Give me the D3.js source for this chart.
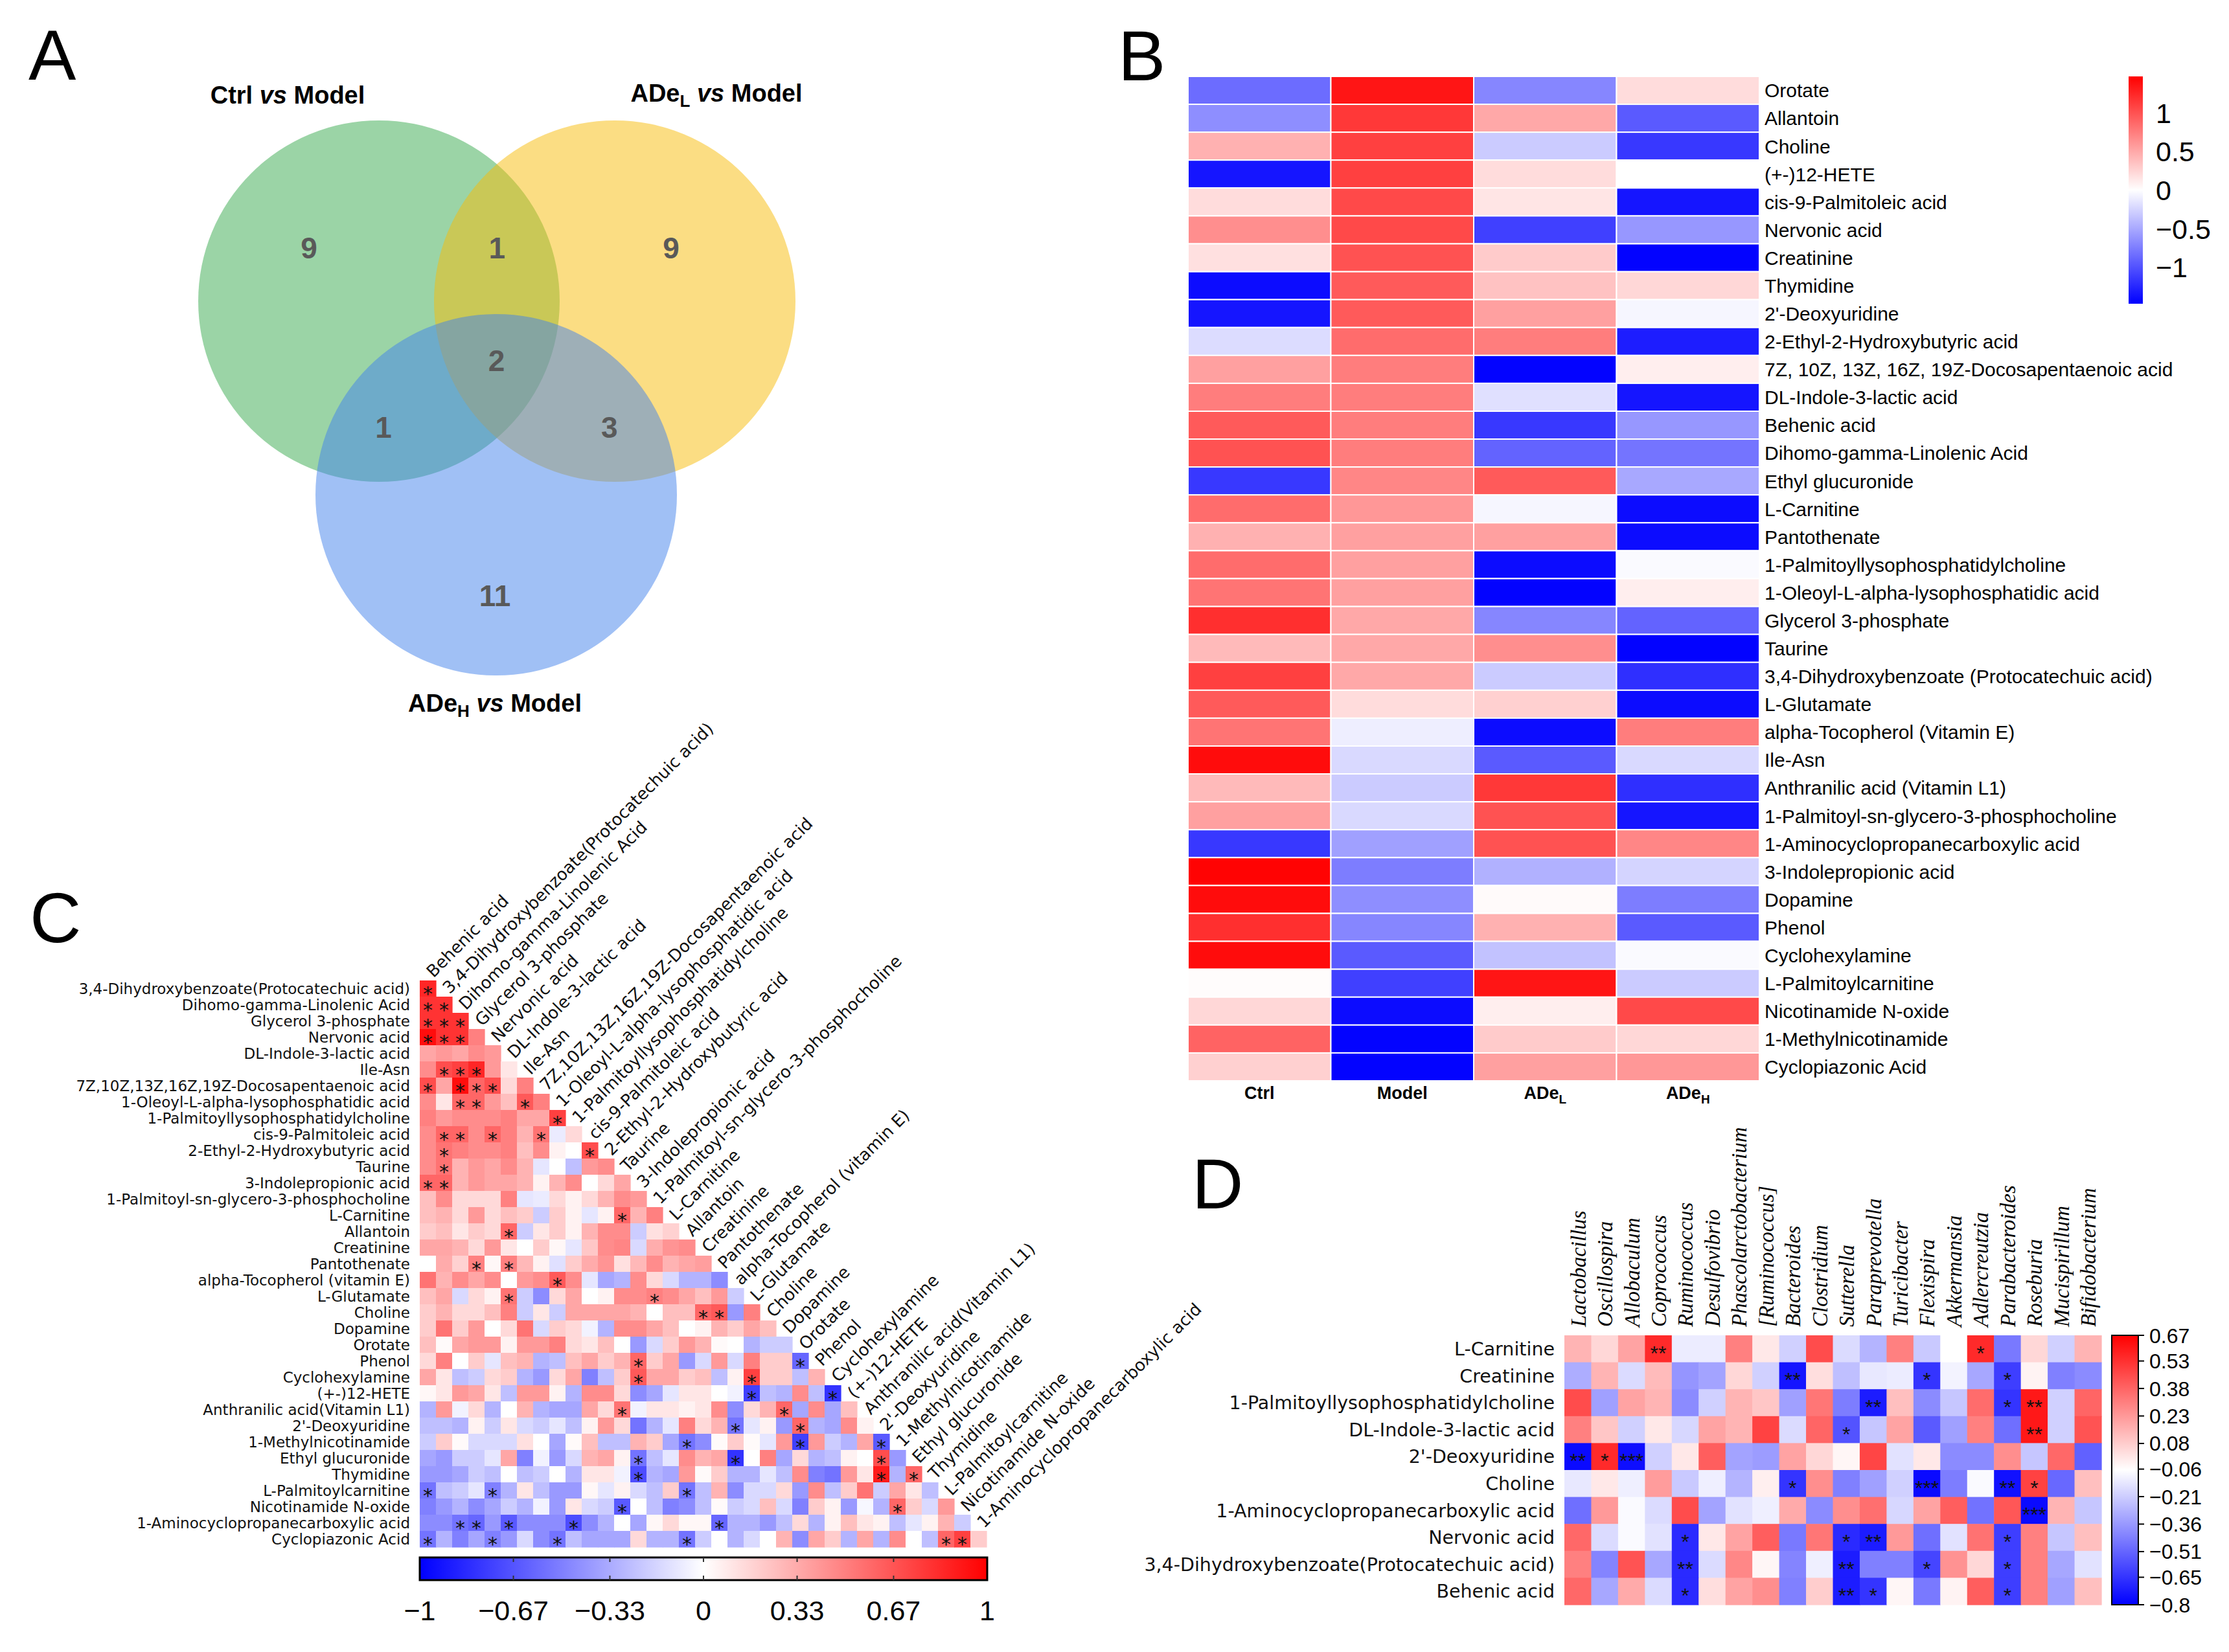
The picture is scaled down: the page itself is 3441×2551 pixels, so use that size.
<!DOCTYPE html>
<html><head><meta charset="utf-8">
<script src="https://cdn.jsdelivr.net/npm/d3@7"></script>
<style>body{margin:0;background:#fff}svg{display:block}</style>
</head><body>
<svg id="fig" width="3441" height="2551"></svg>
<script>
// ---------------- DATA ----------------
// Panel A (Venn)
const vennSetNames = [["Ctrl",""],["ADe","L"],["ADe","H"]];
const vennOnly = [9, 9, 11];            // Ctrl only, ADeL only, ADeH only
const vennPairs = [1, 1, 3];            // Ctrl&ADeL, Ctrl&ADeH, ADeL&ADeH
const vennAll = 2;

// Panel B (heatmap)
const bGroups = ["Ctrl","Model","ADeL","ADeH"];
const bMetabolites = ["Orotate","Allantoin","Choline","(+-)12-HETE","cis-9-Palmitoleic acid","Nervonic acid","Creatinine","Thymidine","2'-Deoxyuridine","2-Ethyl-2-Hydroxybutyric acid","7Z, 10Z, 13Z, 16Z, 19Z-Docosapentaenoic acid","DL-Indole-3-lactic acid","Behenic acid","Dihomo-gamma-Linolenic Acid","Ethyl glucuronide","L-Carnitine","Pantothenate","1-Palmitoyllysophosphatidylcholine","1-Oleoyl-L-alpha-lysophosphatidic acid","Glycerol 3-phosphate","Taurine","3,4-Dihydroxybenzoate (Protocatechuic acid)","L-Glutamate","alpha-Tocopherol (Vitamin E)","Ile-Asn","Anthranilic acid (Vitamin L1)","1-Palmitoyl-sn-glycero-3-phosphocholine","1-Aminocyclopropanecarboxylic acid","3-Indolepropionic acid","Dopamine","Phenol","Cyclohexylamine","L-Palmitoylcarnitine","Nicotinamide N-oxide","1-Methylnicotinamide","Cyclopiazonic Acid"];
const bCtrl  = [-0.85,-0.65,0.45,-1.35,0.2,0.65,0.18,-1.4,-1.35,-0.2,0.55,0.75,0.95,1.0,-1.15,0.85,0.45,0.85,0.8,1.2,0.4,1.1,0.95,0.8,1.4,0.4,0.55,-1.15,1.45,1.4,1.2,1.4,0.02,0.23,0.9,0.27];
const bModel = [1.35,1.15,1.1,1.1,1.05,1.05,1.0,0.95,0.95,0.85,0.75,0.75,0.75,0.75,0.7,0.6,0.55,0.55,0.55,0.5,0.5,0.5,0.2,-0.1,-0.22,-0.3,-0.22,-0.55,-0.75,-0.65,-0.7,-0.95,-1.1,-1.4,-1.45,-1.45];
const bADeL  = [-0.7,0.5,-0.3,0.2,0.15,-1.1,0.3,0.35,0.55,0.75,-1.45,-0.18,-1.15,-0.9,0.95,-0.05,0.55,-1.4,-1.45,-0.7,0.65,-0.3,0.27,-1.4,-0.95,1.15,1.0,1.0,-0.45,0.03,0.45,-0.35,1.35,0.1,0.3,0.55];
const bADeH  = [0.2,-0.95,-1.15,0.0,-1.35,-0.6,-1.45,0.23,-0.05,-1.3,0.1,-1.35,-0.6,-0.8,-0.5,-1.4,-1.4,-0.03,0.1,-0.9,-1.45,-1.2,-1.4,0.75,-0.22,-1.2,-1.35,0.7,-0.25,-0.75,-0.95,-0.03,-0.3,1.05,0.23,0.6];
const bTicks = [1, 0.5, 0, -0.5, -1];

// Panel C (correlation triangle)
const cVars = ["Behenic acid","3,4-Dihydroxybenzoate(Protocatechuic acid)","Dihomo-gamma-Linolenic Acid","Glycerol 3-phosphate","Nervonic acid","DL-Indole-3-lactic acid","Ile-Asn","7Z,10Z,13Z,16Z,19Z-Docosapentaenoic acid","1-Oleoyl-L-alpha-lysophosphatidic acid","1-Palmitoyllysophosphatidylcholine","cis-9-Palmitoleic acid","2-Ethyl-2-Hydroxybutyric acid","Taurine","3-Indolepropionic acid","1-Palmitoyl-sn-glycero-3-phosphocholine","L-Carnitine","Allantoin","Creatinine","Pantothenate","alpha-Tocopherol (vitamin E)","L-Glutamate","Choline","Dopamine","Orotate","Phenol","Cyclohexylamine","(+-)12-HETE","Anthranilic acid(Vitamin L1)","2'-Deoxyuridine","1-Methylnicotinamide","Ethyl glucuronide","Thymidine","L-Palmitoylcarnitine","Nicotinamide N-oxide","1-Aminocyclopropanecarboxylic acid","Cyclopiazonic Acid"];
const cCorr = [
[0.85],
[0.8,0.8],
[0.8,0.8,0.8],
[0.95,0.8,0.8,0.5],
[0.35,0.4,0.35,0.45,0.4],
[0.45,0.7,0.75,0.85,0.4,0.1],
[0.7,0.35,0.95,0.6,0.7,0.15,0.5],
[0.45,0.1,0.6,0.6,0.4,0.25,0.65,0.5],
[0.5,0.4,0.45,0.45,0.45,0.5,0.35,0.35,0.75],
[0.45,0.6,0.6,0.45,0.6,0.5,0.3,0.55,-0.08,0.15],
[0.45,0.55,0.5,0.45,0.45,0.5,0.25,0.45,0.05,0.0,0.7],
[0.45,0.55,0.3,0.4,0.35,0.45,0.3,-0.1,0.0,-0.25,0.4,0.45],
[0.6,0.6,0.3,0.4,0.35,0.35,0.3,0.05,0.3,0.45,0.0,0.15,0.35],
[0.25,0.45,0.15,0.15,0.15,0.5,-0.1,-0.08,0.15,0.05,0.15,0.3,0.45,0.4],
[0.25,0.3,0.15,0.4,0.15,0.25,0.2,-0.2,0.2,0.05,-0.1,0.05,0.6,0.3,0.5],
[0.2,0.25,0.1,0.2,0.15,0.6,-0.2,0.1,0.2,0.05,0.3,0.45,0.45,-0.2,0.12,0.18],
[0.35,0.35,0.3,0.15,0.4,0.1,0.0,0.2,0.03,-0.1,0.22,0.45,0.48,-0.15,0.32,0.42,0.45],
[0.0,0.33,0.18,0.5,0.03,0.5,0.28,0.05,-0.12,0.2,0.33,0.42,0.12,0.28,0.45,0.3,0.35,0.38],
[0.55,0.3,0.45,0.35,0.45,0.0,0.4,0.45,0.65,0.45,-0.1,-0.35,-0.3,0.45,0.15,-0.15,-0.3,-0.3,-0.45],
[0.25,0.35,-0.15,0.15,0.05,0.55,-0.2,-0.45,0.15,0.35,0.0,0.05,0.45,0.45,0.5,0.45,0.35,0.25,0.4,-0.2],
[0.2,0.3,0.15,0.15,0.25,0.5,-0.2,0.1,-0.2,0.35,0.35,0.35,0.35,0.3,0.0,0.25,0.25,0.6,0.65,-0.4,0.5],
[0.2,0.55,0.2,0.4,0.0,0.15,0.55,-0.15,0.2,0.15,-0.05,-0.3,0.45,0.45,0.35,0.25,0.0,0.05,0.3,0.2,0.35,0.25],
[0.25,0.02,0.35,0.4,0.4,0.05,0.4,0.4,0.5,0.15,0.1,0.25,0.0,-0.4,-0.15,0.2,0.4,0.3,0.02,0.0,-0.3,-0.2,-0.2],
[0.15,0.5,0.0,0.2,-0.1,0.25,0.3,-0.3,-0.25,0.25,0.35,0.2,0.3,0.6,0.2,0.35,-0.4,-0.15,0.4,-0.15,0.5,0.2,0.2,-0.6],
[0.35,0.1,-0.25,-0.2,0.15,0.2,-0.3,-0.4,0.15,0.35,-0.5,-0.25,0.2,0.65,0.35,0.35,0.2,0.25,-0.25,0.05,0.75,0.2,0.2,-0.25,0.3],
[0.03,0.1,0.4,0.35,0.1,-0.25,0.4,0.4,0.05,-0.3,0.45,0.45,0.15,-0.45,-0.35,-0.1,0.1,0.1,0.0,-0.05,-0.75,-0.25,-0.3,0.45,-0.25,-0.8],
[-0.3,0.4,-0.05,0.15,-0.3,0.0,0.3,-0.3,-0.35,-0.35,0.35,0.15,0.55,-0.05,0.1,0.1,0.05,0.1,0.45,-0.45,0.15,0.3,0.6,-0.35,0.45,-0.35,0.25],
[-0.25,-0.25,-0.3,0.05,-0.2,0.1,-0.15,-0.2,-0.1,-0.25,0.05,0.4,0.15,-0.55,-0.3,-0.1,0.5,0.15,0.3,-0.55,-0.1,0.05,-0.4,0.6,-0.3,-0.35,0.45,0.05],
[-0.2,0.2,0.02,-0.15,-0.15,-0.15,0.12,0.0,-0.35,0.02,0.25,-0.25,-0.25,0.3,0.2,-0.35,-0.55,-0.45,0.02,0.2,0.02,-0.1,0.4,-0.75,0.4,-0.2,-0.3,0.35,-0.65],
[-0.35,-0.4,-0.2,-0.2,-0.1,0.35,-0.5,-0.05,-0.4,-0.15,0.3,0.35,0.05,-0.55,-0.25,-0.1,0.45,0.3,0.35,-0.8,0.0,0.5,-0.35,0.15,-0.3,-0.25,0.05,0.0,0.7,-0.4],
[-0.4,-0.4,-0.35,-0.2,-0.25,0.0,-0.25,-0.2,0.0,-0.3,0.1,0.1,-0.05,-0.7,-0.3,-0.35,0.4,0.02,0.2,-0.3,-0.3,-0.1,-0.25,0.45,-0.5,-0.55,0.4,0.1,0.9,-0.3,0.6],
[-0.55,-0.25,-0.2,-0.1,-0.5,-0.3,0.1,-0.25,-0.4,-0.4,0.03,-0.1,0.05,-0.15,-0.25,0.2,-0.55,-0.25,0.3,-0.45,-0.15,-0.15,0.15,-0.4,0.45,-0.25,0.2,0.55,-0.2,0.35,0.1,-0.25],
[-0.5,-0.4,-0.3,-0.45,-0.35,-0.2,-0.3,-0.05,-0.4,0.1,-0.15,-0.2,-0.65,0.0,-0.25,-0.5,-0.45,-0.25,0.02,-0.2,-0.15,0.25,-0.15,-0.5,0.2,0.05,-0.4,-0.03,-0.3,0.6,0.2,-0.15,0.4],
[-0.45,-0.45,-0.55,-0.6,-0.4,-0.65,-0.45,-0.45,-0.45,-0.7,-0.45,-0.3,0.0,-0.35,0.03,0.15,0.03,0.03,-0.6,-0.3,-0.3,-0.4,-0.25,0.15,-0.3,0.05,0.25,0.1,0.05,-0.25,-0.1,0.05,0.3,-0.2],
[-0.55,-0.3,-0.5,-0.35,-0.5,-0.4,-0.15,-0.45,-0.55,-0.25,-0.35,-0.35,-0.35,0.15,-0.3,-0.3,-0.55,-0.2,0.0,-0.3,-0.15,0.0,0.3,-0.45,0.35,0.2,-0.3,0.35,-0.3,0.45,0.0,-0.25,0.6,0.75,0.2]
];
const cSig = [[0,0],[1,0],[1,1],[2,0],[2,1],[2,2],[3,0],[3,1],[3,2],[5,1],[5,2],[5,3],[6,0],[6,2],[6,3],[6,4],[7,2],[7,3],[7,6],[8,8],[9,1],[9,2],[9,4],[9,7],[10,1],[10,10],[11,1],[12,0],[12,1],[14,12],[15,5],[17,3],[17,5],[18,8],[19,5],[19,14],[20,17],[20,18],[23,13],[23,23],[24,13],[24,20],[25,20],[25,25],[26,12],[26,22],[27,19],[27,23],[28,16],[28,23],[28,28],[29,13],[29,19],[29,28],[30,13],[30,28],[30,30],[31,0],[31,4],[31,16],[32,12],[32,29],[33,2],[33,3],[33,5],[33,9],[33,18],[34,0],[34,4],[34,8],[34,16],[34,32],[34,33]];
const cTicks = [-1,-0.67,-0.33,0,0.33,0.67,1];

// Panel D (metabolite x genus correlation)
const dGenera = ["Lactobacillus","Oscillospira","Allobaculum","Coprococcus","Ruminococcus","Desulfovibrio","Phascolarctobacterium","[Ruminococcus]","Bacteroides","Clostridium","Sutterella","Paraprevotella","Turicibacter","Flexispira","Akkermansia","Adlercreutzia","Parabacteroides","Roseburia","Mucispirillum","Bifidobacterium"];
const dMetabolites = ["L-Carnitine","Creatinine","1-Palmitoyllysophosphatidylcholine","DL-Indole-3-lactic acid","2'-Deoxyuridine","Choline","1-Aminocyclopropanecarboxylic acid","Nervonic acid","3,4-Dihydroxybenzoate(Protocatechuic acid)","Behenic acid"];
const dCorr = [
[0.15,0.05,0.2,0.55,-0.12,-0.12,0.3,0.0,-0.2,0.45,-0.17,-0.28,0.3,-0.22,-0.065,0.55,-0.45,0.05,-0.2,0.15],
[-0.3,0.15,-0.17,0.13,-0.37,-0.33,0.05,-0.2,-0.74,0.03,-0.25,-0.13,-0.12,-0.65,-0.1,-0.32,-0.62,-0.03,-0.43,-0.4],
[0.45,-0.34,0.2,0.15,-0.4,-0.2,0.15,0.1,-0.34,0.33,-0.44,-0.72,0.12,-0.4,-0.23,0.36,-0.65,0.6,-0.2,0.38],
[0.3,0.1,-0.2,0.0,-0.18,0.2,0.15,0.48,-0.17,0.38,-0.56,-0.23,0.2,-0.54,-0.34,0.3,-0.48,0.6,-0.2,0.43],
[-0.77,0.55,-0.76,-0.2,0.0,0.4,-0.33,-0.35,0.2,0.05,-0.04,0.47,-0.15,0.0,-0.4,-0.4,0.26,-0.23,0.37,-0.52],
[-0.13,0.0,-0.11,0.22,-0.22,-0.11,-0.28,-0.02,-0.65,0.26,-0.43,-0.34,-0.2,-0.77,-0.44,-0.08,-0.75,0.48,-0.5,0.12],
[-0.48,0.23,-0.08,-0.17,0.45,-0.33,-0.15,-0.11,0.18,-0.4,0.26,0.35,-0.18,0.2,0.4,-0.47,0.42,-0.77,0.15,-0.23],
[0.37,-0.17,-0.08,-0.15,-0.68,0.0,0.2,0.4,-0.45,0.33,-0.68,-0.72,0.23,-0.48,-0.15,0.34,-0.62,0.3,-0.23,0.12],
[0.3,-0.42,0.43,-0.32,-0.68,-0.17,0.28,-0.04,-0.42,-0.11,-0.72,-0.43,-0.43,-0.6,0.25,0.05,-0.62,0.3,-0.32,-0.15],
[0.37,-0.32,0.18,-0.17,-0.68,0.03,0.2,0.26,-0.43,0.08,-0.72,-0.65,-0.04,-0.45,-0.03,0.4,-0.62,0.3,-0.34,0.12]
];
const dSig = [[0,3,"**"],[0,15,"*"],[1,8,"**"],[1,13,"*"],[1,16,"*"],[2,11,"**"],[2,16,"*"],[2,17,"**"],[3,10,"*"],[3,17,"**"],[4,0,"**"],[4,1,"*"],[4,2,"***"],[5,8,"*"],[5,13,"***"],[5,16,"**"],[5,17,"*"],[6,17,"***"],[7,4,"*"],[7,10,"*"],[7,11,"**"],[7,16,"*"],[8,4,"**"],[8,10,"**"],[8,13,"*"],[8,16,"*"],[9,4,"*"],[9,10,"**"],[9,11,"*"],[9,16,"*"]];
const dTicks = [0.67,0.53,0.38,0.23,0.08,-0.06,-0.21,-0.36,-0.51,-0.65,-0.8];

// ---------------- DRAWING ----------------
const SANS = "'Liberation Sans', Arial, Helvetica, sans-serif";
const WIDE = "'DejaVu Sans', Verdana, sans-serif";
const SERIF = "'Liberation Serif', 'Times New Roman', serif";
const fmt = v => (v < 0 ? "\u2212" : "") + Math.abs(v);

const svg = d3.select("#fig");
svg.append("rect").attr("width",3441).attr("height",2551).attr("fill","#fff");
const defs = svg.append("defs");
function gradient(id, scale, lo, hi, vertical) {
  const g = defs.append("linearGradient").attr("id", id)
    .attr("x1",0).attr("y1", vertical ? 1 : 0).attr("x2", vertical ? 0 : 1).attr("y2",0);
  const n = 30;
  for (let k = 0; k <= n; k++) {
    const v = lo + (hi - lo) * k / n;
    g.append("stop").attr("offset", k / n).attr("stop-color", scale(v));
  }
}
function panelLetter(t, x, y) {
  svg.append("text").attr("x",x).attr("y",y).attr("font-family",SANS).attr("font-size",110).attr("fill","#000").text(t);
}
panelLetter("A", 44, 123);
panelLetter("B", 1726, 124);
panelLetter("C", 46, 1455);
panelLetter("D", 1840, 1866);

// ---- Panel A: Venn ----
(function(){
  const g = svg.append("g");
  const r = 279;
  const centers = [{x:585,y:465},{x:949,y:465},{x:766,y:764}];
  const fills = ["#37A94D","#F7BB07","#4181EB"];
  centers.forEach((c,i) => g.append("circle").attr("cx",c.x).attr("cy",c.y).attr("r",r)
      .attr("fill",fills[i]).attr("fill-opacity",0.5));
  const num = (x,y,n) => g.append("text").attr("x",x).attr("y",y).attr("text-anchor","middle")
      .attr("dominant-baseline","central").attr("font-family",SANS).attr("font-weight","bold")
      .attr("font-size",46).attr("fill","#595959").text(n);
  const onlyPos = [{x:centers[0].x-108,y:383},{x:centers[1].x+87,y:383},{x:centers[2].x-2,y:920}];
  vennOnly.forEach((n,i)=>num(onlyPos[i].x, onlyPos[i].y, n));
  const pairIdx = [[0,1,2],[0,2,1],[1,2,0]];
  pairIdx.forEach(([a,b,o],k)=>{
    const mx=(centers[a].x+centers[b].x)/2, my=(centers[a].y+centers[b].y)/2;
    let dx=mx-centers[o].x, dy=my-centers[o].y; const L=Math.hypot(dx,dy);
    const push = k===0 ? 82 : 95;
    num(mx+dx/L*push, my+dy/L*push, vennPairs[k]);
  });
  num(d3.mean(centers,c=>c.x), d3.mean(centers,c=>c.y)-8, vennAll);
  const titlePos = [{x:444,y:160},{x:1106,y:157},{x:764,y:1099}];
  vennSetNames.forEach(([base,sub],i)=>{
    const t = g.append("text").attr("x",titlePos[i].x).attr("y",titlePos[i].y).attr("text-anchor","middle")
      .attr("font-family",SANS).attr("font-weight","bold").attr("font-size",38).attr("fill","#000");
    t.append("tspan").text(base);
    if (sub) t.append("tspan").attr("font-size",26).attr("dy",8).text(sub);
    t.append("tspan").attr("dy", sub ? -8 : 0).attr("font-style","italic").text(" vs");
    t.append("tspan").text(" Model");
  });
})();

// ---- Panel B: heatmap ----
(function(){
  const g = svg.append("g");
  const x = d3.scaleBand().domain(bGroups).range([1834,2716]);
  const y = d3.scaleBand().domain(bMetabolites).range([118,1669]);
  const col = d3.scaleLinear().domain([-1.47,0,1.47]).range(["#0000ff","#ffffff","#ff0000"]).clamp(true);
  const series = {Ctrl:bCtrl, Model:bModel, ADeL:bADeL, ADeH:bADeH};
  const cells = [];
  bGroups.forEach(gr => bMetabolites.forEach((m,i)=>cells.push({g:gr,m:m,v:series[gr][i]})));
  g.selectAll("rect.cell").data(cells).join("rect").attr("class","cell")
    .attr("x",d=>x(d.g)).attr("y",d=>y(d.m)).attr("width",x.bandwidth()).attr("height",y.bandwidth())
    .attr("fill",d=>col(d.v)).attr("stroke","#ffffff").attr("stroke-width",2);
  g.selectAll("text.row").data(bMetabolites).join("text").attr("class","row")
    .attr("x",2724).attr("y",d=>y(d)+y.bandwidth()/2).attr("dy","0.36em")
    .attr("font-family",SANS).attr("font-size",30).attr("fill","#000").text(d=>d);
  const colLab = [["Ctrl",""],["Model",""],["ADe","L"],["ADe","H"]];
  bGroups.forEach((gr,i)=>{
    const t = g.append("text").attr("x",x(gr)+x.bandwidth()/2).attr("y",1697).attr("text-anchor","middle")
      .attr("font-family",SANS).attr("font-weight","bold").attr("font-size",27).attr("fill","#000");
    t.append("tspan").text(colLab[i][0]);
    if (colLab[i][1]) t.append("tspan").attr("font-size",19).attr("dy",7).text(colLab[i][1]);
  });
  // colorbar
  gradient("gradB", col, -1.47, 1.47, true);
  const cy = d3.scaleLinear().domain([-1.47,1.47]).range([469,118]);
  g.append("rect").attr("x",3286).attr("y",118).attr("width",22).attr("height",351).attr("fill","url(#gradB)");
  g.selectAll("text.tk").data(bTicks).join("text").attr("class","tk")
    .attr("x",3328).attr("y",d=>cy(d)).attr("dy","0.36em").attr("font-family",SANS)
    .attr("font-size",43).attr("fill","#000").text(fmt);
})();

// ---- Panel C: correlation triangle ----
(function(){
  const g = svg.append("g");
  const n = cCorr.length;
  const x = d3.scaleBand().domain(d3.range(n)).range([648,1523]);
  const y = d3.scaleBand().domain(d3.range(n)).range([1514,2389]);
  const col = d3.scaleLinear().domain([-1,0,1]).range(["#0000ff","#ffffff","#ff0000"]).clamp(true);
  const cells = [];
  cCorr.forEach((row,i)=>row.forEach((v,j)=>{ if (j<=i) cells.push({i,j,v}); }));
  const bw = x.bandwidth();
  g.selectAll("rect").data(cells).join("rect")
    .attr("x",d=>x(d.j)).attr("y",d=>y(d.i)).attr("width",bw+0.6).attr("height",bw+0.6)
    .attr("fill",d=>col(d.v));
  // stars
  g.selectAll("text.sig").data(cSig).join("text").attr("class","sig")
    .attr("x",d=>x(d[1])+bw/2).attr("y",d=>y(d[0])+bw/2+18).attr("text-anchor","middle")
    .attr("font-family",WIDE).attr("font-size",30).attr("fill","#111").text("*");
  // row labels
  const rowNames = cVars.slice(1);
  g.selectAll("text.row").data(rowNames).join("text").attr("class","row")
    .attr("x",633).attr("y",(d,i)=>y(i)+bw/2).attr("dy","0.36em").attr("text-anchor","end")
    .attr("font-family",WIDE).attr("font-size",23).attr("fill","#111").text(d=>d);
  // column labels (diagonal)
  const colNames = cVars.slice(0,n);
  g.selectAll("text.col").data(colNames).join("text").attr("class","col")
    .attr("transform",(d,j)=>`translate(${x(j)+bw/2+2},${y(j)-10}) rotate(-45)`)
    .attr("dy","0.36em").attr("font-family",WIDE).attr("font-size",26).attr("fill","#111").text(d=>d);
  // colorbar
  gradient("gradC", col, -1, 1, false);
  const cx = d3.scaleLinear().domain([-1,1]).range([648,1524]);
  g.append("rect").attr("x",648).attr("y",2405).attr("width",876).attr("height",35)
    .attr("fill","url(#gradC)").attr("stroke","#000").attr("stroke-width",3);
  g.selectAll("line.tk").data(cTicks.slice(1,-1)).join("line").attr("class","tk")
    .attr("x1",d=>cx(d)).attr("x2",d=>cx(d)).attr("y1",2405).attr("y2",2412).attr("stroke","#333").attr("stroke-width",2);
  g.selectAll("line.tk2").data(cTicks.slice(1,-1)).join("line").attr("class","tk2")
    .attr("x1",d=>cx(d)).attr("x2",d=>cx(d)).attr("y1",2433).attr("y2",2440).attr("stroke","#333").attr("stroke-width",2);
  g.selectAll("text.tk").data(cTicks).join("text").attr("class","tk")
    .attr("x",d=>cx(d)).attr("y",2502).attr("text-anchor","middle").attr("font-family",SANS)
    .attr("font-size",43).attr("fill","#000").text(fmt);
})();

// ---- Panel D: heatmap ----
(function(){
  const g = svg.append("g");
  const x = d3.scaleBand().domain(dGenera).range([2415,3244]);
  const y = d3.scaleBand().domain(dMetabolites).range([2062,2478]);
  const col = d3.scaleLinear().domain([-0.8,-0.065,0.67]).range(["#0000ff","#ffffff","#ff0000"]).clamp(true);
  const cells = [];
  dMetabolites.forEach((m,i)=>dGenera.forEach((gn,j)=>cells.push({m,gn,v:dCorr[i][j]})));
  g.selectAll("rect").data(cells).join("rect")
    .attr("x",d=>x(d.gn)).attr("y",d=>y(d.m)).attr("width",x.bandwidth()+0.6).attr("height",y.bandwidth()+0.6)
    .attr("fill",d=>col(d.v));
  g.selectAll("text.sig").data(dSig).join("text").attr("class","sig")
    .attr("x",d=>x(dGenera[d[1]])+x.bandwidth()/2).attr("y",d=>y(dMetabolites[d[0]])+y.bandwidth()/2+18)
    .attr("text-anchor","middle").attr("font-family",SANS).attr("font-size",32).attr("fill","#111").text(d=>d[2]);
  g.selectAll("text.row").data(dMetabolites).join("text").attr("class","row")
    .attr("x",2400).attr("y",d=>y(d)+y.bandwidth()/2).attr("dy","0.36em").attr("text-anchor","end")
    .attr("font-family",WIDE).attr("font-size",28.5).attr("fill","#111").text(d=>d);
  g.selectAll("text.col").data(dGenera).join("text").attr("class","col")
    .attr("transform",d=>`translate(${x(d)+x.bandwidth()/2},2049) rotate(-90)`)
    .attr("dy","0.36em").attr("font-family",SERIF).attr("font-style","italic")
    .attr("font-size",33).attr("fill","#000").text(d=>d);
  gradient("gradD", col, -0.8, 0.67, true);
  const cy = d3.scaleLinear().domain([-0.8,0.67]).range([2478,2062]);
  g.append("rect").attr("x",3260).attr("y",2062).attr("width",41).attr("height",416)
    .attr("fill","url(#gradD)").attr("stroke","#000").attr("stroke-width",2);
  g.selectAll("line.tk").data(dTicks).join("line").attr("class","tk")
    .attr("x1",3301).attr("x2",3310).attr("y1",d=>cy(d)).attr("y2",d=>cy(d)).attr("stroke","#000").attr("stroke-width",2);
  g.selectAll("text.tk").data(dTicks).join("text").attr("class","tk")
    .attr("x",3318).attr("y",d=>cy(d)).attr("dy","0.36em").attr("font-family",SANS)
    .attr("font-size",32).attr("fill","#000").text(fmt);
})();
</script>
</body></html>
